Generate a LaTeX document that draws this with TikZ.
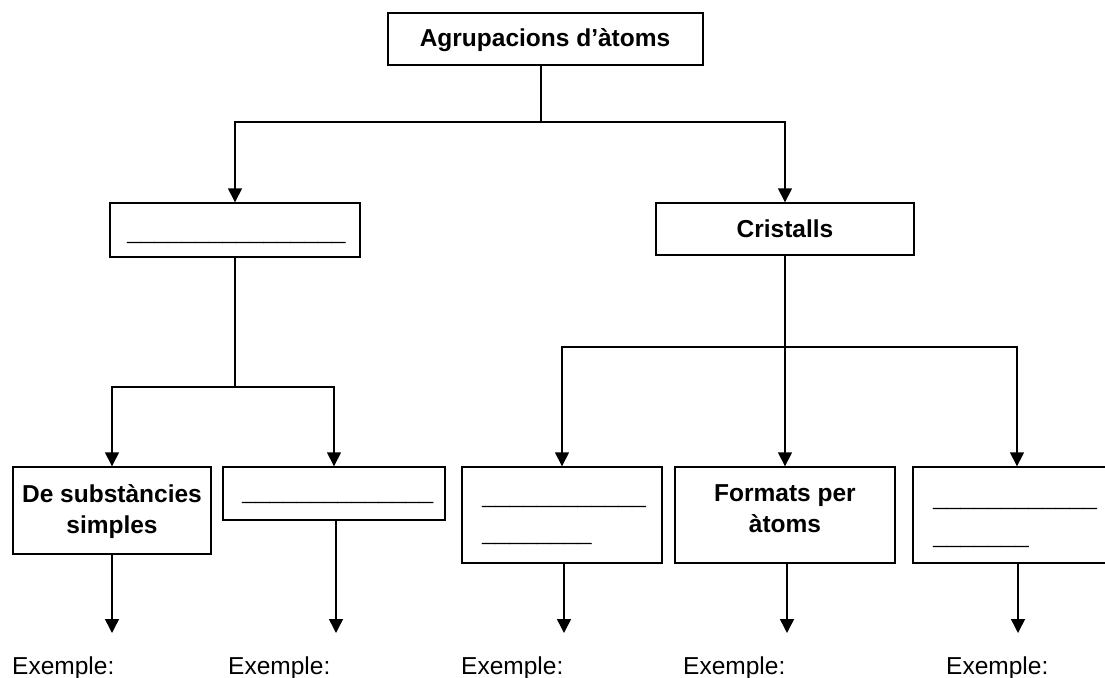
\documentclass[tikz,border=0pt]{standalone}
\usepackage{fontspec}
\setmainfont{Liberation Sans}
\usetikzlibrary{arrows.meta}
\begin{document}
\begin{tikzpicture}[x=1pt,y=-1pt,
  box/.style={draw=black, line width=1.4pt, rectangle, inner sep=0pt},
  conn/.style={draw=black, line width=1.5pt},
  arr/.style={conn, -{Triangle[width=14pt,length=14pt]}},
  boldtxt/.style={font=\fontsize{24.5}{31}\selectfont\bfseries, inner sep=0pt},
  blanktxt/.style={font=\fontsize{24.5}{31}\selectfont\bfseries\addfontfeature{FakeBold=1.5}, inner sep=0pt},
  regtxt/.style={font=\fontsize{24.5}{31}\selectfont, inner sep=0pt},
]
\useasboundingbox (0,0) rectangle (1105,677);
\clip (0,0) rectangle (1105,677);

% boxes
\node[box, minimum width=315pt, minimum height=52pt] (top) at (545.5,39) {};
\node[box, minimum width=250pt, minimum height=54pt] (L1) at (235,230) {};
\node[box, minimum width=258pt, minimum height=52pt] (cr) at (785,229) {};
\node[box, minimum width=198pt, minimum height=87pt] (b1) at (112,510.5) {};
\node[box, minimum width=222pt, minimum height=53pt] (b2) at (334,493.5) {};
\node[box, minimum width=200pt, minimum height=96pt] (b3) at (562,515) {};
\node[box, minimum width=220pt, minimum height=96pt] (b4) at (785,515) {};
\node[box, minimum width=208pt, minimum height=96pt] (b5) at (1017,515) {};

% texts
\node[boldtxt, anchor=base] (topt) at (545,47) {Agrupacions d’àtoms};
\node[blanktxt, anchor=base west] (L1t) at (127,240) {\_\_\_\_\_\_\_\_\_\_\_\_\_\_\_\_};
\node[boldtxt, anchor=base] (crt) at (785,237) {Cristalls};
\node[boldtxt, anchor=base] (b1t1) at (112,502) {De substàncies};
\node[boldtxt, anchor=base] (b1t2) at (112,533) {simples};
\node[blanktxt, anchor=base west] (b2t) at (242,500) {\_\_\_\_\_\_\_\_\_\_\_\_\_\_};
\node[blanktxt, anchor=base west] (b3t1) at (482,504) {\_\_\_\_\_\_\_\_\_\_\_\_};
\node[blanktxt, anchor=base west] (b3t2) at (482,541) {\_\_\_\_\_\_\_\_};
\node[boldtxt, anchor=base] (b4t1) at (785,501) {Formats per};
\node[boldtxt, anchor=base] (b4t2) at (785,532) {àtoms};
\node[blanktxt, anchor=base west] (b5t1) at (933,506) {\_\_\_\_\_\_\_\_\_\_\_\_};
\node[blanktxt, anchor=base west] (b5t2) at (933,544) {\_\_\_\_\_\_\_};

\node[regtxt, anchor=base west] (ex1) at (12,674) {Exemple:};
\node[regtxt, anchor=base west] (ex2) at (228,674) {Exemple:};
\node[regtxt, anchor=base west] (ex3) at (461,674) {Exemple:};
\node[regtxt, anchor=base west] (ex4) at (683,674) {Exemple:};
\node[regtxt, anchor=base west] (ex5) at (946,674) {Exemple:};

% junctions
\coordinate (j1) at (541,122);
\coordinate (j2) at (235,387);
\coordinate (j3) at (785,347);

\draw[conn] (top.south -| j1) -- (j1);
\draw[arr] (j1) -| (L1.north);
\draw[arr] (j1) -| (cr.north);

\draw[conn] (L1.south) -- (j2);
\draw[arr] (j2) -| (b1.north);
\draw[arr] (j2) -| (b2.north);

\draw[arr] (cr.south) -- (b4.north);
\draw[arr] (j3) -| (b3.north);
\draw[arr] (j3) -| (b5.north);

% arrows to examples
\coordinate (a1) at (112,633);
\coordinate (a2) at (336,633);
\coordinate (a3) at (564,633);
\coordinate (a4) at (787,633);
\coordinate (a5) at (1018,633);
\draw[arr] (b1.south -| a1) -- (a1);
\draw[arr] (b2.south -| a2) -- (a2);
\draw[arr] (b3.south -| a3) -- (a3);
\draw[arr] (b4.south -| a4) -- (a4);
\draw[arr] (b5.south -| a5) -- (a5);
\end{tikzpicture}
\end{document}
